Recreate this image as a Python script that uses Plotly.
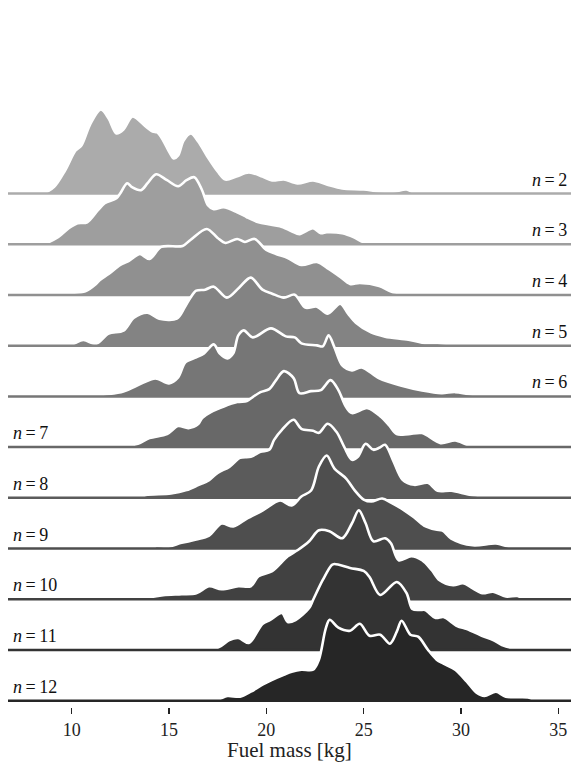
import plotly.graph_objects as go

# ---- data: fuel-mass density profiles (x in kg, density in relative units) ----
rows = [2, 3, 4, 5, 6, 7, 8, 9, 10, 11, 12]

mass_n2 = [6.7, 8.5, 9.1, 9.66, 10.2, 10.5, 10.97, 11.5, 11.9, 12.3, 12.66, 13.13, 13.8, 14.16, 14.4, 14.7, 15.0, 15.24, 15.47, 15.75, 16.12, 16.5, 16.97, 17.5, 17.9, 18.46, 19.1, 19.8, 20.3, 20.9, 21.6, 22.4, 23.1, 23.9, 25.0, 25.8, 26.5, 27.2, 27.7, 36]
dens_n2 = [0, 0, 6.7, 23, 43, 48, 70, 84, 75, 60, 64, 77, 67, 62, 61, 53, 42, 35, 38, 53, 60, 52, 37, 22, 14, 17, 21, 17, 13, 14, 10, 13, 9, 5, 4, 2, 1.7, 4, 0.3, 0]

mass_n3 = [6.7, 8.5, 9.3, 9.85, 10.3, 10.8, 11.35, 11.7, 12.3, 12.5, 12.85, 13.1, 13.56, 13.9, 14.34, 14.9, 15.47, 15.9, 16.3, 16.7, 17.0, 17.3, 17.8, 18.5, 19.0, 19.6, 20.1, 20.7, 21.3, 21.7, 22.4, 22.8, 23.1, 23.9, 24.5, 25.0, 26.1, 27.5, 28.0, 29.6, 30.0, 30.4, 36]
dens_n3 = [0, 0, 7, 16, 21, 22, 34, 41, 46, 51, 61, 57, 54, 61, 70, 64, 58, 64, 67, 54, 39, 35, 37, 32, 27, 22, 20, 18, 13, 10, 16, 11, 12, 11, 7, 2, 1.3, 1.7, 0.5, 0.5, 2.3, 0.2, 0]

mass_n4 = [6.7, 9.4, 9.85, 10.7, 11.25, 11.45, 11.9, 12.5, 12.94, 13.15, 13.5, 14.0, 14.6, 15.7, 16.1, 16.94, 17.5, 17.9, 18.5, 18.9, 19.4, 20.0, 20.5, 21.1, 21.8, 22.6, 23.2, 23.8, 24.3, 24.8, 25.8, 26.5, 27.3, 28.2, 28.8, 30.3, 30.8, 36]
dens_n4 = [0, 0, 1.7, 3.7, 11, 15, 21, 30, 34, 37, 41, 36, 48, 49, 55, 66, 57, 52, 56, 53, 56, 45, 41, 37, 30, 33, 26, 18, 11, 12, 9, 2.7, 2, 2, 0.5, 0.7, 0, 0]

mass_n5 = [6.7, 9.85, 10.6, 11.25, 11.9, 12.66, 13.2, 13.9, 14.5, 15.4, 15.8, 16.1, 16.4, 16.86, 17.3, 17.97, 18.6, 19.2, 19.8, 20.3, 20.9, 21.46, 22.0, 22.6, 23.15, 23.8, 24.2, 24.6, 25.4, 26.1, 27.3, 28.0, 28.8, 29.9, 30.5, 36]
dens_n5 = [0, 0, 5.7, 1.7, 12, 15, 28, 33, 27, 27, 38, 48, 55, 56, 59, 48, 58, 68, 56, 52, 48, 51, 38, 39, 32, 42, 32, 23, 13, 9, 6, 3, 2.7, 0.7, 0, 0]

mass_n6 = [6.7, 10.8, 11.7, 12.66, 13.6, 14.3, 15.0, 15.47, 15.84, 16.4, 16.8, 17.3, 17.6, 18.0, 18.3, 18.56, 18.84, 19.3, 20.24, 21.0, 21.46, 21.8, 22.6, 22.9, 23.2, 23.5, 23.9, 24.4, 24.9, 25.8, 26.9, 28.0, 29.0, 29.7, 30.6, 31.8, 32.5, 36]
dens_n6 = [0, 0, 2, 5, 13, 18, 13, 19, 34, 39, 43, 52, 43, 38, 43, 61, 66, 59, 68, 60, 59, 53, 51, 50, 61, 49, 31, 26, 29, 18, 11, 6, 3.3, 4.3, 1.7, 0.7, 0, 0]

mass_n7 = [6.7, 12.5, 13.4, 14.0, 14.9, 15.47, 16.0, 16.5, 16.7, 17.15, 18.5, 19.0, 19.3, 19.7, 20.15, 20.5, 20.9, 21.4, 21.7, 22.3, 22.8, 23.3, 23.7, 24.1, 24.4, 25.2, 25.9, 26.3, 26.7, 27.3, 28.0, 28.95, 29.7, 30.4, 31.2, 31.7, 36]
dens_n7 = [0, 0, 3.3, 9, 13, 21, 19, 23, 29, 35, 45, 46, 50, 55, 58, 67, 76, 69, 54, 56, 57, 67, 57, 40, 34, 39, 30, 22, 13, 13, 14, 4, 6.7, 2, 2.3, 0, 0]

mass_n8 = [6.7, 13.4, 13.8, 15.1, 15.9, 16.5, 17.06, 17.5, 18.1, 18.65, 19.2, 19.7, 20.15, 20.4, 20.8, 21.4, 21.8, 22.4, 22.7, 23.15, 23.6, 24.0, 24.4, 24.7, 25.1, 25.5, 25.8, 26.1, 26.5, 27.0, 27.6, 28.3, 28.8, 29.5, 30.6, 32.1, 32.6, 36]
dens_n8 = [0, 0, 2.7, 4.3, 7.7, 12.7, 17.7, 25, 31, 40, 41, 46, 48, 58, 68, 78, 69, 67, 65, 74, 66, 51, 38, 41, 54, 48, 50, 53, 38, 18, 13, 15, 7, 7, 2.7, 1, 0, 0]

mass_n9 = [6.7, 14.1, 14.35, 14.9, 15.65, 16.4, 17.06, 17.7, 18.3, 19.0, 19.8, 20.7, 21.3, 21.8, 22.3, 22.7, 23.1, 23.5, 24.1, 24.55, 25.0, 25.4, 25.95, 26.4, 27.1, 27.6, 28.1, 28.7, 29.05, 29.5, 30.6, 31.8, 32.5, 33.4, 33.9, 36]
dens_n9 = [0, 0, 2.3, 1.7, 5.7, 9, 13, 25, 22, 30, 38, 48, 43, 52, 58, 82, 93, 80, 70, 58, 49, 47, 50, 46, 38, 31, 23, 19, 18, 10, 3.3, 5, 1.7, 1.3, 0, 0]

mass_n10 = [6.7, 11.9, 12.3, 12.6, 13.8, 14.7, 15.65, 16.4, 17.06, 17.7, 18.56, 19.2, 19.6, 20.3, 21.1, 21.6, 22.2, 22.7, 23.24, 23.9, 24.4, 24.75, 25.1, 25.5, 26.1, 26.4, 26.8, 27.45, 28.0, 28.5, 28.9, 29.6, 30.1, 30.6, 31.1, 31.65, 32.3, 32.9, 33.3, 36]
dens_n10 = [0, 0, 1, 0.3, 1.3, 4, 5, 6, 13, 10, 13, 13, 23, 28, 43, 49, 58, 69, 68, 61, 76, 89, 76, 58, 61, 56, 39, 43, 39, 29, 19, 14, 16, 11, 6, 7.6, 2.7, 3.3, 0, 0]

mass_n11 = [6.7, 15.6, 17.5, 18.1, 18.56, 19.1, 19.8, 20.2, 20.8, 21.1, 21.5, 22.2, 22.4, 22.9, 23.36, 23.5, 24.3, 25.0, 25.3, 25.85, 26.7, 27.2, 27.5, 27.9, 28.15, 28.7, 29.1, 29.8, 30.3, 31.1, 31.65, 32.1, 32.9, 36]
dens_n11 = [0, 0, 2.3, 10, 12, 7, 26, 30, 37, 28, 30, 42, 50, 70, 85, 86, 82, 79, 73, 55, 68, 57, 41, 40, 40, 32, 33, 24, 21, 14, 10, 5, 0.7, 0]

mass_n12 = [6.7, 15.3, 15.75, 16.8, 17.5, 18.0, 18.65, 19.2, 19.8, 20.3, 20.9, 21.3, 21.8, 22.4, 22.7, 23.05, 23.25, 23.7, 24.3, 24.8, 25.3, 25.85, 26.35, 26.7, 26.95, 27.4, 27.8, 28.3, 28.75, 29.1, 29.7, 30.3, 30.8, 31.2, 31.8, 32.3, 33.45, 33.9, 36]
dens_n12 = [0, 0, 1.3, 0.7, 1.3, 4.7, 4, 9, 16, 21, 26, 29, 31, 31, 41, 72, 81, 73, 70, 77, 65, 66, 57, 69, 80, 66, 64, 51, 41, 37, 31, 19, 8, 4.7, 9, 4, 3.3, 0, 0]

masses = [mass_n2, mass_n3, mass_n4, mass_n5, mass_n6, mass_n7, mass_n8, mass_n9, mass_n10, mass_n11, mass_n12]
densities = [dens_n2, dens_n3, dens_n4, dens_n5, dens_n6, dens_n7, dens_n8, dens_n9, dens_n10, dens_n11, dens_n12]

tick_vals = [10, 15, 20, 25, 30, 35]
x_title = "Fuel mass [kg]"

# ---- styling ----
X_RANGE = [6.73, 35.65]
ROW_PX = 50.72          # vertical pixels between baselines
SCALE = 1.0 / ROW_PX    # density unit -> row units
FONT = "'Liberation Serif', 'Times New Roman', serif"

W, H = 571, 766
M_L, M_R, M_T, M_B = 8, 0, 20, 59
plot_h_paper = H - M_T - M_B          # 687
y_dom_bottom = 5.0 / plot_h_paper      # data area ends 5 px above the tick row
plot_h = plot_h_paper - 5              # 682
y_min = -1.3 / ROW_PX
y_max = y_min + plot_h / ROW_PX


def grey(i, n):
    v = round(171 - (171 - 38) * i / (n - 1))
    return f"rgb({v},{v},{v})"


fig = go.Figure()
annotations = []
for i, (n, xs, ds) in enumerate(zip(rows, masses, densities)):
    off = 12 - n
    col = grey(i, len(rows))
    fig.add_trace(go.Scatter(x=[X_RANGE[0] - 1, X_RANGE[1] + 1], y=[off, off],
                             mode="lines", line=dict(width=0, color=col),
                             hoverinfo="skip", showlegend=False))
    fig.add_trace(go.Scatter(x=xs, y=[off + d * SCALE for d in ds], mode="lines",
                             line=dict(color="white", width=2.6, shape="spline", smoothing=0.9),
                             fill="tonexty", fillcolor=col,
                             hoverinfo="skip", showlegend=False))
    fig.add_trace(go.Scatter(x=[X_RANGE[0] - 1, X_RANGE[1] + 1], y=[off, off],
                             mode="lines", line=dict(width=2.5, color=col),
                             hoverinfo="skip", showlegend=False))
    label = f"<i>n</i>\u2009=\u2009{n}"
    if n <= 6:
        annotations.append(dict(x=1, xref="paper", xanchor="right", xshift=-2,
                                y=off, yref="y", yanchor="bottom", yshift=2,
                                text=label, showarrow=False,
                                font=dict(family=FONT, size=18, color="#111")))
    else:
        annotations.append(dict(x=0, xref="paper", xanchor="left", xshift=3,
                                y=off, yref="y", yanchor="bottom", yshift=2,
                                text=label, showarrow=False,
                                font=dict(family=FONT, size=18, color="#111")))

annotations.append(dict(x=0.5, xref="paper", y=(707 - 750) / plot_h_paper, yref="paper",
                        xanchor="center", yanchor="middle", text=x_title, showarrow=False,
                        font=dict(family=FONT, size=21, color="#222")))

fig.update_layout(
    width=W, height=H,
    margin=dict(l=M_L, r=M_R, t=M_T, b=M_B, pad=0),
    plot_bgcolor="white", paper_bgcolor="white",
    showlegend=False,
    font=dict(family=FONT),
    annotations=annotations,
    xaxis=dict(range=X_RANGE, anchor="free", position=0,
               tickvals=tick_vals, ticks="outside", ticklen=6, tickwidth=1.3,
               tickcolor="#222", showgrid=False, zeroline=False, showline=False,
               tickfont=dict(family=FONT, size=18, color="#222")),
    yaxis=dict(range=[y_min, y_max], domain=[y_dom_bottom, 1], visible=False,
               showgrid=False, zeroline=False),
)

fig.write_html("out.html", config={"displayModeBar": False, "staticPlot": True},
               post_script="document.body.style.margin='0';document.body.style.overflow='hidden';")
